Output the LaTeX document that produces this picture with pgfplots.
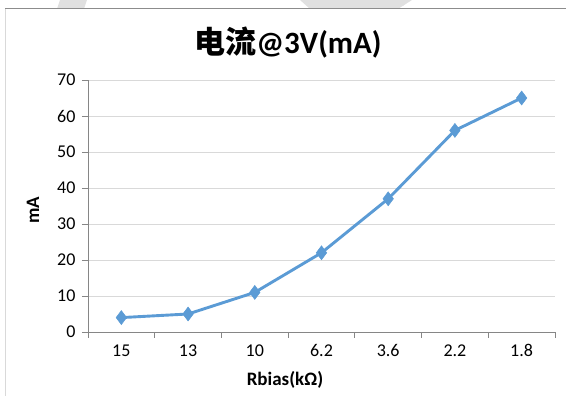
\documentclass[border=0pt]{standalone}
\usepackage{pgfplots}
\pgfplotsset{compat=1.18}
\usepackage{fontspec}
\setmainfont{Carlito}
\newfontfamily\cjk{Noto Sans CJK SC}
\definecolor{serieblue}{HTML}{5B9BD5}
\definecolor{gridgray}{HTML}{D9D9D9}
\definecolor{axisgray}{HTML}{868686}
\definecolor{framegray}{HTML}{8C8C8C}
\definecolor{shadegray}{HTML}{E0E0E0}
\begin{document}
\begin{tikzpicture}[x=1pt,y=1pt]
\useasboundingbox (0,0) rectangle (566,396);
% light shapes peeking above the chart frame
\fill[shadegray] (57,387) -- (60,396) -- (87,396) -- (84,387) -- cycle;
\fill[shadegray] (300,396) -- (412,396) -- (398,387) -- (310,387) -- cycle;
\fill[shadegray] (400,396) -- (408,396) -- (403,390) -- cycle;
% chart frame
\draw[draw=gridgray, line width=1pt] (5.5,0) -- (5.5,387);
\draw[draw=framegray, line width=1pt] (5,387) -- (566,387);
% title
\node at (288,353) {\bfseries\fontsize{31}{36}\selectfont{\cjk\bfseries 电流}@3V(mA)};
\begin{axis}[
  at={(88pt,64pt)}, anchor=south west,
  scale only axis, width=467pt, height=252pt,
  xmin=-0.5, xmax=6.5, ymin=0, ymax=70,
  axis lines*=left,
  axis line style={draw=axisgray, line width=0.8pt},
  xtick={0,...,6},
  xticklabels={15,13,10,6.2,3.6,2.2,1.8},
  major x tick style={draw=none},
  minor xtick={-0.5,0.5,...,6.5},
  minor x tick style={draw=axisgray, line width=0.8pt},
  minor tick length=6pt,
  ytick={0,10,...,70},
  major y tick style={draw=axisgray, line width=0.8pt},
  major tick length=6pt,
  tick align=outside,
  ymajorgrids,
  major grid style={draw=gridgray, line width=0.8pt},
  tick label style={font=\fontsize{18}{21}\selectfont},
  /pgf/number format/assume math mode=true,
  xticklabel style={yshift=-3pt},
  yticklabel style={xshift=-3pt},
  xlabel={Rbias(kΩ)},
  ylabel={mA},
  label style={font=\fontsize{19}{22}\selectfont\bfseries},
  xlabel style={at={(axis description cs:0.4218,-0.19)}, anchor=center},
  ylabel style={at={(axis description cs:-0.118,0.484)}, anchor=center},
  clip=false,
]
\addplot[color=serieblue, line width=2.9pt, mark=diamond*,
  mark size=7pt, mark options={fill=serieblue, draw=serieblue, line width=0.5pt}]
  coordinates {(0,4) (1,5) (2,11) (3,22) (4,37) (5,56) (6,65)};
\end{axis}
\end{tikzpicture}
\end{document}
